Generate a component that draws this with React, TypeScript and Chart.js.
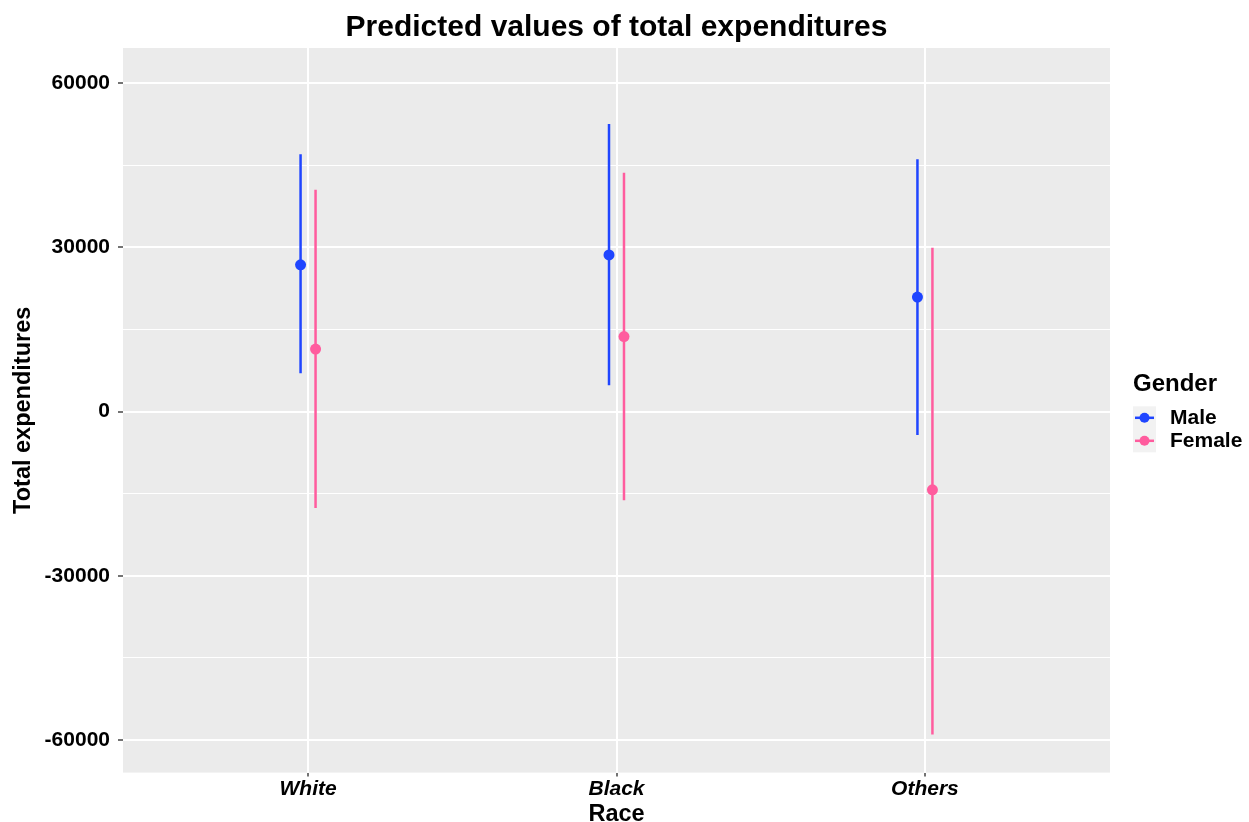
import React, { useEffect, useRef } from 'react';
import { Chart, registerables } from 'chart.js';

Chart.register(...registerables);

// ---- data ----
const categories = ['White', 'Black', 'Others'];
const seriesNames = ['Male', 'Female'];
const maleEstimate = [26800, 28600, 20900];
const maleLower = [7000, 4800, -4300];
const maleUpper = [47000, 52500, 46100];
const femaleEstimate = [11400, 13700, -14300];
const femaleLower = [-17600, -16200, -59000];
const femaleUpper = [40500, 43600, 29900];
const yTickValues = [-60000, -45000, -30000, -15000, 0, 15000, 30000, 45000, 60000];
const yMajorValues = [-60000, -30000, 0, 30000, 60000];

const chartTitle = 'Predicted values of total expenditures';
const xTitle = 'Race';
const yTitle = 'Total expenditures';
const legendTitle = 'Gender';

// ---- styles ----
const FONT = '"Liberation Sans", Arial, Helvetica, sans-serif';
const MALE_COLOR = '#1f45ff';
const FEMALE_COLOR = '#ff5c9e';
const seriesColors = [MALE_COLOR, FEMALE_COLOR];
const DODGE = 0.0243;

function barPoints(low: number[], high: number[], off: number) {
  const pts: { x: number; y: number | null }[] = [];
  low.forEach((l, i) => {
    const x = i + 1 + off;
    pts.push({ x, y: l }, { x, y: high[i] }, { x, y: null });
  });
  return pts;
}

function estPoints(est: number[], off: number) {
  return est.map((v, i) => ({ x: i + 1 + off, y: v }));
}

const panelPlugin = {
  id: 'panelBg',
  beforeDraw(chart: any) {
    const { ctx, chartArea } = chart;
    ctx.save();
    ctx.fillStyle = '#ebebeb';
    ctx.fillRect(chartArea.left, chartArea.top, chartArea.right - chartArea.left, chartArea.bottom - chartArea.top);
    ctx.restore();
  },
};

const titlePlugin = {
  id: 'ggTitle',
  afterDraw(chart: any) {
    const { ctx, chartArea } = chart;
    ctx.save();
    ctx.fillStyle = '#000';
    ctx.textAlign = 'center';
    ctx.textBaseline = 'middle';
    ctx.font = `bold 30px ${FONT}`;
    ctx.fillText(chartTitle, (chartArea.left + chartArea.right) / 2, 28);
    ctx.restore();
  },
};

const legendPlugin = {
  id: 'ggLegend',
  afterDraw(chart: any) {
    const { ctx, chartArea } = chart;
    const mid = (chartArea.top + chartArea.bottom) / 2;
    const x0 = chartArea.right + 23;
    ctx.save();
    ctx.fillStyle = '#000';
    ctx.textBaseline = 'middle';
    ctx.textAlign = 'left';
    ctx.font = `bold 24px ${FONT}`;
    ctx.fillText(legendTitle, x0, mid - 26);
    const keyTop = mid - 4;
    const keyH = 23;
    ctx.fillStyle = '#f2f2f2';
    ctx.fillRect(x0, keyTop, 23, keyH * seriesNames.length);
    seriesNames.forEach((name, i) => {
      const cy = keyTop + keyH * i + keyH / 2;
      ctx.strokeStyle = seriesColors[i];
      ctx.lineWidth = 2.5;
      ctx.beginPath();
      ctx.moveTo(x0 + 2, cy);
      ctx.lineTo(x0 + 21, cy);
      ctx.stroke();
      ctx.fillStyle = seriesColors[i];
      ctx.beginPath();
      ctx.arc(x0 + 11.5, cy, 5, 0, Math.PI * 2);
      ctx.fill();
      ctx.fillStyle = '#000';
      ctx.font = `bold 21px ${FONT}`;
      ctx.fillText(name, x0 + 37, cy);
    });
    ctx.restore();
  },
};

export default function App() {
  const canvasRef = useRef<HTMLCanvasElement | null>(null);

  useEffect(() => {
    if (!canvasRef.current) return;
    const isMajor = (v: number) => yMajorValues.includes(v);
    const chart = new Chart(canvasRef.current, {
      type: 'scatter',
      data: {
        datasets: [
          {
            label: 'Male points',
            data: estPoints(maleEstimate, -DODGE),
            showLine: false,
            pointRadius: 5.5,
            pointHoverRadius: 5.5,
            backgroundColor: MALE_COLOR,
            borderWidth: 0,
            order: 1,
          },
          {
            label: 'Female points',
            data: estPoints(femaleEstimate, DODGE),
            showLine: false,
            pointRadius: 5.5,
            pointHoverRadius: 5.5,
            backgroundColor: FEMALE_COLOR,
            borderWidth: 0,
            order: 0,
          },
          {
            label: 'Male range',
            data: barPoints(maleLower, maleUpper, -DODGE),
            showLine: true,
            spanGaps: false,
            pointRadius: 0,
            borderColor: MALE_COLOR,
            borderWidth: 2.5,
            order: 3,
          },
          {
            label: 'Female range',
            data: barPoints(femaleLower, femaleUpper, DODGE),
            showLine: true,
            spanGaps: false,
            pointRadius: 0,
            borderColor: FEMALE_COLOR,
            borderWidth: 2.5,
            order: 2,
          },
        ] as any,
      },
      options: {
        animation: false,
        responsive: true,
        maintainAspectRatio: false,
        layout: { padding: { left: 0, right: 139, top: 48, bottom: 0 } },
        plugins: {
          legend: { display: false },
          tooltip: { enabled: false },
          title: { display: false },
        },
        scales: {
          x: {
            type: 'linear',
            min: 0.4,
            max: 3.6,
            afterBuildTicks(scale: any) {
              scale.ticks = categories.map((_, i) => ({ value: i + 1 }));
            },
            afterFit(scale: any) {
              scale.height = 49.4;
            },
            border: { display: false },
            grid: {
              color: '#ffffff',
              lineWidth: 2,
              tickColor: '#444444',
              tickLength: 4,
              tickWidth: 1.5,
            },
            ticks: {
              padding: 0,
              color: '#000',
              font: { family: FONT, size: 21, weight: 'bold', style: 'italic' },
              callback: (v: any) => categories[Math.round(Number(v)) - 1] ?? '',
            },
            title: {
              display: true,
              text: xTitle,
              color: '#000',
              font: { family: FONT, size: 23.5, weight: 'bold', lineHeight: 1 },
              padding: { top: 0, bottom: -4 },
            },
          },
          y: {
            type: 'linear',
            min: -65950,
            max: 66400,
            afterBuildTicks(scale: any) {
              scale.ticks = yTickValues.map((v) => ({ value: v }));
            },
            afterFit(scale: any) {
              scale.width = 123;
            },
            border: { display: false },
            grid: {
              color: '#ffffff',
              lineWidth: (c: any) => (isMajor(c.tick?.value) ? 2 : 1),
              tickColor: (c: any) => (isMajor(c.tick?.value) ? '#444444' : 'rgba(0,0,0,0)'),
              tickLength: 5,
              tickWidth: 1.5,
            },
            ticks: {
              padding: 8,
              color: '#000',
              font: { family: FONT, size: 21, weight: 'bold' },
              callback: (v: any) => (isMajor(Number(v)) ? String(v) : ''),
            },
            title: {
              display: true,
              text: yTitle,
              color: '#000',
              font: { family: FONT, size: 23.5, weight: 'bold', lineHeight: 1 },
              padding: { top: 12, bottom: 0 },
            },
          },
        },
      } as any,
      plugins: [panelPlugin, titlePlugin, legendPlugin],
    });
    return () => chart.destroy();
  }, []);

  return (
    <div style={{ position: 'fixed', left: 0, top: 0, width: 1249, height: 822, background: '#fff' }}>
      <canvas ref={canvasRef} />
    </div>
  );
}
